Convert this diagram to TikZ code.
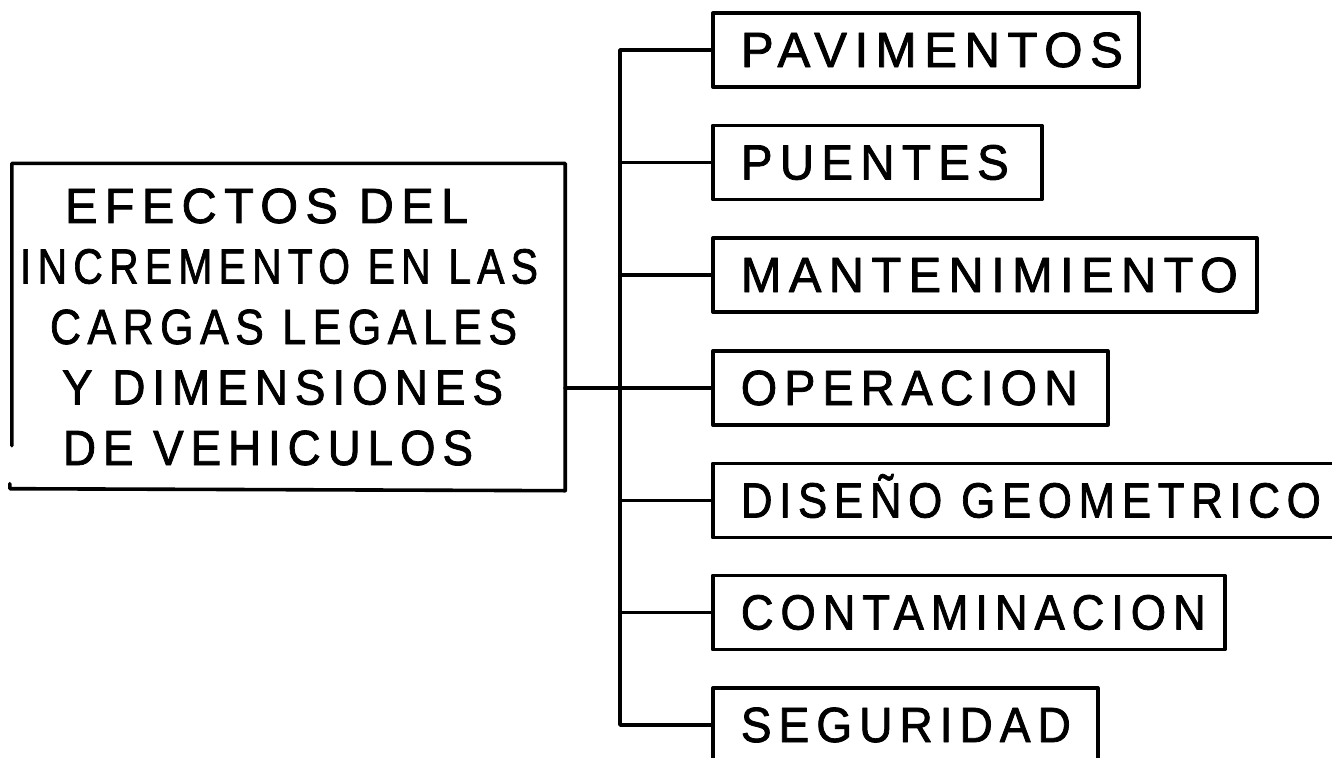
\documentclass[tikz,border=0pt]{standalone}
\usepackage{fontspec}
\usepackage{graphicx}
\newfontfamily\lett[LetterSpace=15,FakeBold=1.6]{Liberation Sans}
\usetikzlibrary{calc}
\newcommand\fit[2]{\resizebox{#1}{34pt}{\lett\smash{#2}\vphantom{H}}}
\newcommand\leaftext[3]{\makebox[#1][l]{\hspace*{28pt}\fit{#2}{#3}}}
\newcommand\mline[3]{\hbox to 537pt{\hspace*{#1}\fit{#2}{#3}\hfil}}
\tikzset{
  ln/.style={line width=3.6pt, line join=round, line cap=round},
  leaf/.style={ln, draw, rectangle, inner sep=0pt, minimum height=74pt, anchor=west},
}
\begin{document}
\begin{tikzpicture}[x=1pt,y=-1pt]
\useasboundingbox (0,0) rectangle (1332,757);
\clip (0,0) rectangle (1332,757);
\fill[white] (0,0) rectangle (1332,757);
% leaf boxes
\node[leaf] (pav) at (711,50)    {\leaftext{426pt}{382pt}{PAVIMENTOS}};
\node[leaf] (pue) at (711,162.5) {\leaftext{329pt}{268pt}{PUENTES}};
\node[leaf] (man) at (711,275)   {\leaftext{544pt}{497pt}{MANTENIMIENTO}};
\node[leaf] (opr) at (711,388)   {\leaftext{395pt}{337pt}{OPERACION}};
\node[leaf] (dis) at (711,500.5) {\leaftext{660pt}{580pt}{DISEÑO GEOMETRICO}};
\node[leaf] (con) at (711,612.5) {\leaftext{512pt}{465pt}{CONTAMINACION}};
\node[leaf] (seg) at (711,725)   {\leaftext{385pt}{330pt}{SEGURIDAD}};
% main box
\node[inner xsep=8pt, inner ysep=0pt, minimum height=327pt] (main) at (288.5,327)
 {\vbox{\offinterlineskip
  \mline{45pt}{403pt}{EFECTOS DEL}\kern26.5pt
  \mline{0pt}{518pt}{INCREMENTO EN LAS}\kern26.5pt
  \mline{30pt}{467pt}{CARGAS LEGALES}\kern26.5pt
  \mline{42pt}{441pt}{Y DIMENSIONES}\kern26.5pt
  \mline{43pt}{410pt}{DE VEHICULOS}}};
\draw[ln] ($(main.south west)+(0,-45)$) -- (main.north west) -- (main.north east) -- (main.south east) -- ($(main.south west)+(-2,-2)$) -- ++(0,-5);
% connectors
\coordinate (tx) at (620,0);
\draw[ln] (pav.west) -- (tx |- pav.west) -- (tx |- seg.west) -- (seg.west);
\foreach \n in {pue,man,dis,con} \draw[ln] (tx |- \n.west) -- (\n.west);
\draw[ln] (main.east |- opr.west) -- (opr.west);
\end{tikzpicture}
\end{document}
